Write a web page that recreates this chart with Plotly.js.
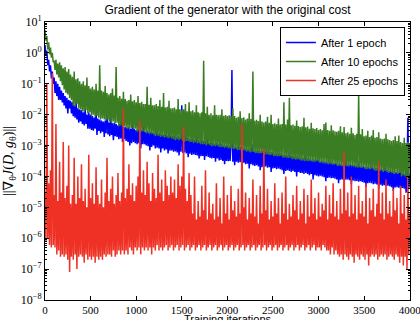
<!DOCTYPE html>
<html>
<head>
<meta charset="utf-8">
<script src="https://cdn.plot.ly/plotly-3.0.1.min.js"></script>
<style>html,body{margin:0;padding:0;background:#fff;}#chart{width:420px;height:320px;}</style>
</head>
<body>
<div id="chart"></div>
<script>
// Gradient norm, one value every 10 training iterations (0..4000)
const seriesNames = ["After 1 epoch", "After 10 epochs", "After 25 epochs"];

const epoch1 = [
1.8,0.9,1.2,0.4,0.6,0.25,0.4,0.15,0.25,0.1,
0.16,0.05,0.12,0.04,0.1,0.03,0.08,0.03,0.06,0.025,
0.05,0.02,0.04,0.016,0.035,0.011,0.03,0.016,0.028,0.011,
0.025,0.009,0.02,0.008,0.03,0.007,0.016,0.0055,0.015,0.006,
0.014,0.005,0.012,0.0045,0.017,0.005,0.01,0.0035,0.012,0.0035,
0.01,0.0032,0.009,0.003,0.008,0.0035,0.013,0.0022,0.0075,0.003,
0.007,0.0025,0.0065,0.0028,0.006,0.0019,0.0065,0.0025,0.035,0.0023,
0.0056,0.002,0.008,0.0022,0.0053,0.0015,0.0056,0.002,0.005,0.0019,
0.0045,0.0016,0.005,0.0017,0.0065,0.0013,0.0045,0.0016,0.004,0.0014,
0.0038,0.0013,0.004,0.001,0.0035,0.0012,0.0055,0.0013,0.0034,0.0012,
0.0032,0.0011,0.0034,0.0012,0.003,0.0008,0.0032,0.0011,0.0045,0.0011,
0.0028,0.001,0.003,0.00095,0.0027,0.0007,0.0028,0.0009,0.0026,0.001,
0.0025,0.0008,0.0038,0.00085,0.0024,0.0008,0.0026,0.0006,0.0023,0.0008,
0.0022,0.0007,0.0024,0.00075,0.0021,0.00055,0.0032,0.00068,0.0021,0.0007,
0.002,0.00063,0.0021,0.00065,0.0019,0.0006,0.002,0.00048,0.0018,0.00063,
0.02,0.00058,0.0018,0.0006,0.0026,0.00055,0.0018,0.00042,0.0016,0.00055,
0.0016,0.0005,0.0017,0.00052,0.0015,0.0005,0.0022,0.00048,0.0015,0.00038,
0.0014,0.00045,0.0015,0.00046,0.0014,0.00034,0.0014,0.00045,0.002,0.00043,
0.0012,0.0004,0.0013,0.00038,0.0012,0.0004,0.0011,0.0003,0.0012,0.00038,
0.0011,0.00033,0.0016,0.00034,0.0011,0.00032,0.001,0.00025,0.00098,0.00032,
0.001,0.00031,0.00095,0.00032,0.001,0.28,0.0003,0.00095,0.00023,0.0009,
0.0003,0.0009,0.00028,0.0013,0.00029,0.0009,0.00021,0.00085,0.00028,0.0008,
0.00025,0.0008,0.00026,0.00075,0.00018,0.0008,0.00025,0.0011,0.00023,0.0007,
0.00022,0.0007,0.00023,0.00068,0.00021,0.0007,0.00016,0.00065,0.0002,0.00068,
0.0002,0.00063,0.00021,0.0009,0.00019,0.00063,0.0002,0.0006,0.00014,0.00062,
0.00018,0.00056,0.00019,0.00055,0.00017,0.0008,0.00018,0.00054,0.00017,0.00055,
0.00016,0.0005,0.00012,0.00049,0.00015,0.0005,0.00016,0.00048,0.00015,0.0007,
0.00014,0.00045,0.00015,0.00044,0.00014,0.00045,0.0001,0.00043,0.00014,0.00044,
0.00013,0.0004,0.00013,0.00039,0.00012,0.0006,0.00013,0.00038,0.00012,0.0004,
0.00011,0.00036,0.00012,0.00035,0.00008,0.00036,0.00011,0.00034,0.000105,0.0005,
0.0001,0.00032,0.000105,0.00031,0.0001,0.00032,0.000095,0.0003,0.00007,0.00031,
0.00009,0.00028,0.000092,0.0004,0.000088,0.00028,0.00009,0.00027,0.000085,0.00028,
0.00008,0.00025,0.00006,0.00026,0.000078,0.00025,0.00008,0.00024,0.000076,0.00036,
0.000078,0.00025,0.00008,0.00024,0.000075,0.00025,0.000055,0.00023,0.000074,0.00024,
0.00007,0.00022,0.000072,0.00032,0.000068,0.00022,0.00007,0.00021,0.000066,0.00022,
0.000063,0.0002,0.000045,0.00021,0.00006,0.0002,0.000063,0.00019,0.00006,0.00028,
0.000056,0.00018,0.000058,0.00019,0.000055,0.00018,0.00004,0.00017,0.000054,0.00018,
0.00005,0.00016,0.000052,0.00024,0.000049,0.00016,0.00005,0.00015,0.000048,0.00016,
0.000045,0.00014,0.000034,0.00015,0.000044,0.00014,0.000045,0.00013,0.000043,0.0002,
0.00004,0.00013,0.000042,0.00013,0.00004,0.00012,0.00003,0.00012,0.008,0.00004,
0.00012
];

const epoch10 = [
5.5,2.5,3.5,1.3,2.2,0.9,1.5,0.7,1.0,0.5,
0.56,0.28,0.6,0.2,0.45,0.16,0.5,0.12,0.4,0.09,
0.32,0.065,0.35,0.05,0.25,0.045,0.3,0.035,0.2,0.03,
0.17,0.02,0.25,0.018,0.14,0.022,0.15,0.016,0.12,0.015,
0.1,0.013,0.12,0.012,0.09,0.014,0.16,0.011,0.085,0.012,
0.07,0.009,0.08,0.01,0.065,0.0085,0.1,0.009,0.06,0.008,
0.4,0.007,0.06,0.0075,0.055,0.007,0.085,0.0065,0.05,0.007,
0.045,0.006,0.05,0.0055,0.07,0.006,0.042,0.0052,0.35,0.0055,
0.035,0.0042,0.04,0.0045,0.033,0.004,0.055,0.0043,0.032,0.0038,
0.028,0.0036,0.03,0.0035,0.045,0.0037,0.027,0.0034,0.03,0.0035,
0.025,0.0028,0.04,0.003,0.024,0.0027,0.026,0.0029,0.022,0.0028,
0.022,0.0025,0.08,0.0026,0.021,0.0024,0.035,0.0025,0.02,0.0023,
0.02,0.002,0.022,0.0021,0.019,0.002,0.03,0.0019,0.018,0.002,
0.05,0.0018,0.017,0.0019,0.018,0.0017,0.028,0.0018,0.016,0.0017,
0.016,0.0016,0.017,0.0015,0.015,0.0016,0.032,0.0015,0.015,0.0016,
0.014,0.0014,0.015,0.0013,0.022,0.0014,0.013,0.0014,0.025,0.0013,
0.013,0.0013,0.014,0.0012,0.012,0.0013,0.02,0.0012,0.012,0.0012,
0.011,0.0011,0.012,0.0011,0.56,0.0011,0.011,0.001,0.018,0.0011,
0.01,0.001,0.011,0.00095,0.0095,0.001,0.02,0.00095,0.01,0.001,
0.0095,0.0009,0.01,0.00088,0.015,0.0009,0.0092,0.00085,0.0098,0.0009,
0.009,0.0008,0.0095,0.00082,0.0088,0.0008,0.016,0.00078,0.009,0.0008,
0.008,0.0007,0.0085,0.00072,0.013,0.0007,0.0078,0.00068,0.0082,0.0007,
0.007,0.00063,0.0075,0.00065,0.011,0.0006,0.0072,0.00063,0.25,0.00062,
0.0063,0.00056,0.0068,0.00058,0.0062,0.00055,0.01,0.00056,0.006,0.00057,
0.0056,0.0005,0.006,0.00052,0.0085,0.0005,0.0055,0.00049,0.01,0.0005,
0.005,0.00045,0.0053,0.00046,0.0049,0.00044,0.0075,0.00045,0.0048,0.00046,
0.005,0.0004,0.025,0.00042,0.0048,0.0004,0.007,0.00039,0.035,0.0004,
0.0045,0.00036,0.0048,0.00037,0.0044,0.00035,0.0065,0.00036,0.0043,0.00035,
0.004,0.00032,0.0042,0.00033,0.008,0.00031,0.0039,0.00032,0.0041,0.00031,
0.0035,0.00032,0.0055,0.0003,0.0036,0.00031,0.0034,0.0003,0.0037,0.00032,
0.0032,0.00028,0.0034,0.00029,0.0031,0.00027,0.005,0.00028,0.0056,0.00027,
0.0032,0.00025,0.003,0.00026,0.0045,0.00024,0.0031,0.00025,0.0029,0.00025,
0.0028,0.00022,0.003,0.00023,0.0042,0.00022,0.0027,0.00021,0.004,0.00022,
0.0025,0.00022,0.0027,0.00021,0.0024,0.00023,0.0038,0.00022,0.0025,0.00021,
0.0022,0.0002,0.0024,0.00019,0.05,0.0002,0.0023,0.00019,0.0034,0.0002,
0.002,0.00018,0.0021,0.00017,0.003,0.00018,0.0019,0.00017,0.0021,0.00018,
0.0032,0.00016,0.0018,0.00015,0.0019,0.00016,0.0027,0.00015,0.0017,0.00016,
0.0016,0.00014,0.0017,0.00015,0.0024,0.00014,0.0016,0.00013,0.0015,0.00014,
0.0014,0.00013,0.0015,0.00012,0.002,0.00013,0.0014,0.00012,0.0021,0.00013,
0.0013,0.0001,0.0012,0.00011,0.0018,0.0001,0.0012,0.00009,0.0013,0.0001,
0.0012
];

const epoch25 = [
3e-5,8e-7,0.1,1e-6,6e-5,6e-7,1.6e-4,5e-7,0.22,6e-7,
2.5e-5,5e-7,5e-3,3e-7,1.6e-5,4e-7,3e-4,2.5e-7,3e-5,3e-7,
1.3e-3,2.5e-7,2e-5,3e-7,5e-5,2e-7,1e-3,8e-8,1.3e-5,2.5e-7,
2.5e-5,2e-7,4e-4,3e-7,1.3e-5,1e-7,1e-4,2.5e-7,2e-5,3e-7,
2.5e-4,2.5e-7,1.6e-5,1.6e-7,4e-5,3e-7,1e-5,2e-7,5e-4,2.5e-7,
2e-5,2e-7,6e-5,2.5e-7,1.3e-5,1.6e-7,2e-4,2.5e-7,2.5e-5,2e-7,
1.3e-5,2.5e-7,8e-5,2e-7,1e-5,3e-7,3e-5,2.5e-7,4e-4,3e-7,
1.6e-5,3e-7,4e-5,2.5e-7,1e-4,4e-7,1.3e-5,2.5e-7,2.5e-5,3e-7,
1.3e-4,4e-7,1.6e-5,3e-7,3e-5,4e-7,1.6e-2,3e-7,2e-5,4e-7,
4e-5,3e-7,2.5e-4,5e-7,2.5e-5,4e-7,6e-5,3e-7,1.6e-5,5e-7,
5e-5,4e-7,1e-4,5e-7,6.3e-3,3e-7,3e-5,5e-7,1.6e-4,4e-7,
2.5e-5,5e-7,3e-4,4e-7,6e-5,5e-7,1.6e-5,3e-7,1.3e-4,5e-7,
4e-5,4e-7,2e-5,6e-7,5e-4,4e-7,3e-5,5e-7,8e-5,4e-7,
1.6e-5,5e-7,1.6e-4,6e-7,5e-5,4e-7,2.5e-5,5e-7,1e-4,6e-7,
3e-5,4e-7,8e-5,5e-7,2e-5,6e-7,2.5e-4,4e-7,5e-5,5e-7,
1e-4,6e-7,4e-3,4e-7,4e-5,5e-7,1.6e-5,6e-7,1.3e-4,4e-7,
2.5e-5,5e-7,6.3e-6,6e-7,1e-4,4e-7,4e-6,5e-7,1.6e-5,6e-7,
5e-6,4e-7,5e-5,5e-7,8e-6,6e-7,1.6e-4,4e-7,4e-6,5e-7,
3e-5,6e-7,6.3e-6,4e-7,1.3e-5,5e-7,4e-6,6e-7,6e-5,4e-7,
5e-6,5e-7,2e-5,6e-7,3e-6,4e-7,1e-4,5e-7,6.3e-6,6e-7,
2.5e-5,4e-7,4e-6,5e-7,5e-5,6e-7,8e-6,4e-7,1.6e-5,5e-7,
5e-6,6e-7,4e-5,4e-7,6.3e-6,5e-7,5e-3,6e-7,1e-5,4e-7,
3e-5,5e-7,4e-6,6e-7,2e-5,4e-7,6.3e-6,5e-7,8e-5,6e-7,
5e-6,4e-7,2.5e-5,5e-7,3e-6,6e-7,5e-5,4e-7,6.3e-6,5e-7,
8e-4,6e-7,8e-6,4e-7,4e-5,5e-7,4e-6,6e-7,1.6e-5,4e-7,
5e-6,5e-7,6e-5,6e-7,6.3e-6,4e-7,2e-5,5e-7,3e-6,6e-7,
3e-5,4e-7,6.3e-6,5e-7,1e-4,6e-7,4e-6,4e-7,1.3e-5,5e-7,
5e-6,6e-7,2.5e-5,4e-7,8e-6,5e-7,5e-5,6e-7,4e-6,4e-7,
1.6e-5,5e-7,6.3e-6,6e-7,4e-5,4e-7,3e-6,5e-7,2.5e-5,6e-7,
5e-6,4e-7,8e-5,5e-7,6.3e-6,6e-7,2e-5,4e-7,4e-6,5e-7,
3e-5,5e-7,5e-6,4e-7,1.3e-5,6e-7,8e-6,5e-7,5e-5,4e-7,
4e-6,4e-7,2.5e-5,3e-7,6.3e-6,5e-7,6e-5,3e-7,5e-6,4e-7,
1.6e-5,3e-7,4e-6,2.5e-7,4e-5,3e-7,6.3e-6,2e-7,6.3e-4,3e-7,
8e-6,2.5e-7,3e-5,2e-7,5e-6,3e-7,1e-4,2.5e-7,6.3e-6,1.6e-7,
2.5e-5,3e-7,4e-6,2.5e-7,5e-5,2e-7,6.3e-6,3e-7,1.6e-5,2.5e-7,
5e-6,2e-7,6e-5,3e-7,3e-6,1.3e-7,2e-5,2.5e-7,8e-6,3e-7,
4e-5,2.5e-7,5e-6,3e-7,1.3e-5,2e-7,3e-4,2.5e-7,6.3e-6,3e-7,
3e-5,2.5e-7,4e-6,3e-7,8e-5,2e-7,6.3e-6,2.5e-7,1.6e-5,3e-7,
5e-6,2.5e-7,4e-5,2e-7,8e-6,3e-7,2e-5,2.5e-7,3e-6,1.6e-7,
5e-5,2.5e-7,6.3e-6,1.3e-7,2.5e-5,2.5e-7,4e-6,1e-7,1e-4,3e-7,
6.3e-6
];

const yTickVals = [1e-8,1e-7,1e-6,1e-5,1e-4,1e-3,1e-2,1e-1,1e0,1e1];
const yTickText = ["10<sup>−8</sup>","10<sup>−7</sup>","10<sup>−6</sup>","10<sup>−5</sup>","10<sup>−4</sup>","10<sup>−3</sup>","10<sup>−2</sup>","10<sup>−1</sup>","10<sup>0</sup>","10<sup>1</sup>"];
const xTickVals = [0,500,1000,1500,2000,2500,3000,3500,4000];

const colors = ["#0000ff", "#3a7d22", "#ee3124"];
const allSeries = [epoch1, epoch10, epoch25];

const traces = allSeries.map((ys, k) => ({
  type: "scatter",
  mode: "lines",
  name: seriesNames[k],
  x0: 0,
  dx: 10,
  y: ys,
  line: {color: colors[k], width: 1.5, simplify: false}
}));

const serif = "Liberation Serif, DejaVu Serif, serif";
const sans = "Liberation Sans, Arial, sans-serif";

const layout = {
  width: 420,
  height: 320,
  margin: {l: 45, r: 10, t: 22, b: 20, pad: 0},
  paper_bgcolor: "#ffffff",
  plot_bgcolor: "#ffffff",
  showlegend: true,
  title: {
    text: "Gradient of the generator with the original cost",
    font: {family: sans, size: 12, color: "#000"},
    x: 0.5, xref: "paper", xanchor: "center",
    y: 0.969, yref: "container", yanchor: "middle"
  },
  xaxis: {
    range: [0, 4003],
    tickvals: xTickVals,
    ticks: "inside",
    ticklen: 4,
    tickcolor: "#000",
    ticklabeloverflow: "allow",
    showline: true,
    linecolor: "#000",
    linewidth: 1,
    mirror: "ticks",
    showgrid: false,
    zeroline: false,
    tickfont: {family: serif, size: 11, color: "#000"},
    automargin: false
  },
  yaxis: {
    type: "log",
    range: [-8, 1],
    tickvals: yTickVals,
    ticktext: yTickText,
    ticks: "inside",
    ticklen: 4,
    tickcolor: "#000",
    minor: {ticks: "inside", ticklen: 2, tickcolor: "#000", dtick: "D1"},
    showline: true,
    linecolor: "#000",
    linewidth: 1,
    mirror: "ticks",
    showgrid: false,
    zeroline: false,
    tickfont: {family: serif, size: 12, color: "#000"},
    title: {text: "||∇<sub>θ</sub><i>J</i>(<i>D</i>, <i>g</i><sub>θ</sub>)||", font: {family: serif, size: 14, color: "#000"}, standoff: 3},
    automargin: false
  },
  annotations: [{
    text: "Training iterations",
    xref: "paper", yref: "paper",
    x: 0.5, y: 0, xanchor: "center", yanchor: "top",
    yshift: -12,
    borderpad: 0,
    showarrow: false,
    font: {family: sans, size: 11, color: "#000"}
  }],
  legend: {
    x: 0.986, xanchor: "right",
    y: 0.982, yanchor: "top",
    bgcolor: "#ffffff",
    bordercolor: "#000",
    borderwidth: 1,
    font: {family: sans, size: 11, color: "#000"},
    tracegroupgap: 0
  }
};

Plotly.newPlot("chart", traces, layout, {staticPlot: true, displayModeBar: false});
</script>
</body>
</html>
